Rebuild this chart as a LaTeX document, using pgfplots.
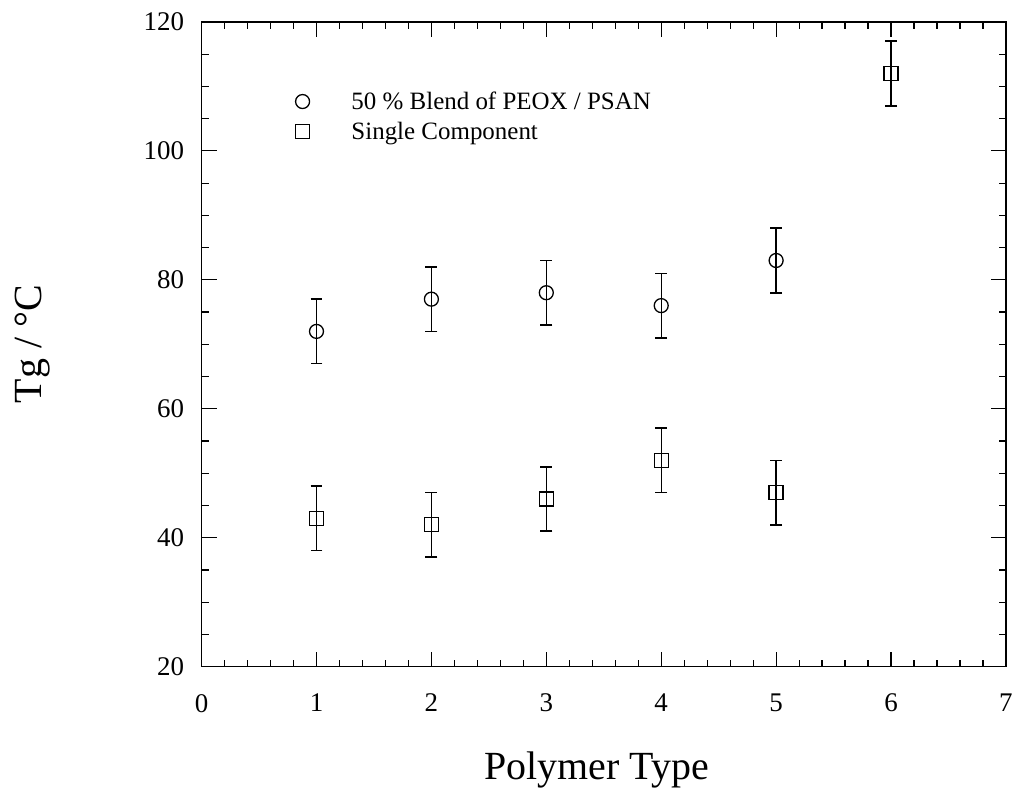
\documentclass[border=0pt]{standalone}
\usepackage{fontspec}
\setmainfont{Liberation Serif}
\usepackage{pgfplots}
\pgfplotsset{compat=1.18}
\begin{document}
\begin{tikzpicture}
\begin{axis}[
  scale only axis,
  width=806pt, height=646pt,
  xmin=0, xmax=7, ymin=20, ymax=120,
  xtick={0,...,7}, ytick={20,40,...,120},
  minor x tick num=4, minor y tick num=3,
  tick align=inside,
  major tick length=15pt, minor tick length=7pt,
  tick style={line width=1.2pt, black},
  axis line style={line width=1.6pt},
  ticklabel style={font=\fontsize{27}{31}\selectfont},
  /pgf/number format/assume math mode=true,
  xticklabel style={yshift=-24pt},
  yticklabel style={xshift=-14pt},
  xlabel={Polymer Type},
  ylabel={Tg / °C},
  label style={font=\fontsize{40}{46}\selectfont},
  xlabel style={at={(axis description cs:0.5,0)}, anchor=north, xshift=-7pt, yshift=-82pt},
  ylabel style={at={(axis description cs:0,0.5)}, anchor=south, yshift=148pt},
  legend style={draw=none, fill=none, at={(91pt,580pt)}, anchor=north west,
    font=\fontsize{25}{29}\selectfont, row sep=7pt, legend cell align=left},
  legend image code/.code={\draw[#1] plot coordinates {(0.3cm,0cm)};},
  clip=false,
]
\addplot[only marks, mark=o, mark size=7pt, line width=1.3pt, black,
  error bars/.cd, y dir=both, y explicit,
  error bar style={line width=1.3pt},
  error mark options={rotate=90, mark size=6pt, line width=1.6pt}]
  table[x=x, y=y, y error=e] {
x y e
1 72 5
2 77 5
3 78 5
4 76 5
5 83 5
};
\addlegendentry{\hspace{40pt}50 \% Blend of PEOX / PSAN}
\addplot[only marks, mark=square, mark size=7pt, line width=1.3pt, black,
  error bars/.cd, y dir=both, y explicit,
  error bar style={line width=1.3pt},
  error mark options={rotate=90, mark size=6pt, line width=1.6pt}]
  table[x=x, y=y, y error=e] {
x y e
1 43 5
2 42 5
3 46 5
4 52 5
5 47 5
6 112 5
};
\addlegendentry{\hspace{40pt}Single Component}
\end{axis}
\path[use as bounding box] (-202pt,-125pt) rectangle (814pt,668pt);
\end{tikzpicture}
\end{document}
